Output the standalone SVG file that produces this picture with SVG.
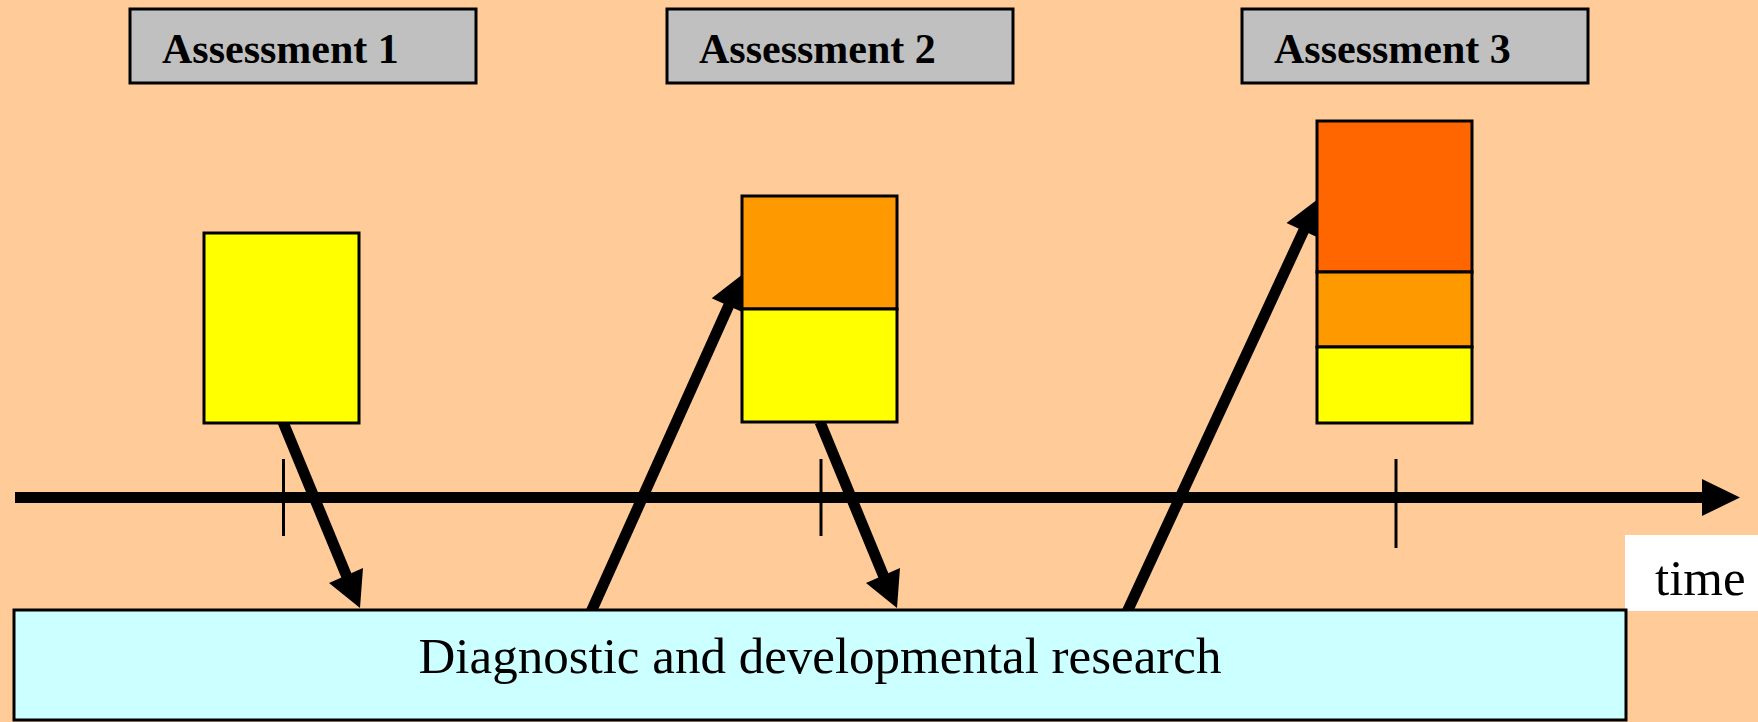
<svg xmlns="http://www.w3.org/2000/svg" width="1758" height="722" viewBox="0 0 1758 722">
<style>
.box{stroke:#000;stroke-width:3}
.hdr{fill:#C0C0C0}
.yel{fill:#FFFF00}
.org{fill:#FF9900}
.red{fill:#FF6600}
.lbl{font-family:"Liberation Serif","Times New Roman",serif;font-weight:bold;font-size:42px;fill:#000}
.txt{font-family:"Liberation Serif","Times New Roman",serif;font-size:51px;fill:#000}
.arr{stroke:#000;stroke-width:11;fill:none}
.tick{stroke:#000;stroke-width:3}
</style>
<rect x="0" y="0" width="1758" height="722" fill="#FFCC99"/>
<g id="connectors">
<line class="arr" x1="15" y1="497.5" x2="1704" y2="497.5"/>
<polygon points="1702,479 1740,497.5 1702,516" fill="#000"/>
<line class="tick" x1="283.5" y1="459" x2="283.5" y2="536"/>
<line class="tick" x1="821" y1="459" x2="821" y2="536"/>
<line class="tick" x1="1396" y1="459" x2="1396" y2="548"/>
<line class="arr" x1="283" y1="422" x2="347" y2="577"/>
<polygon points="360,608 329,583 363,568" fill="#000"/>
<line class="arr" x1="820" y1="422" x2="884" y2="577"/>
<polygon points="897,608 866,583 900,568" fill="#000"/>
<line class="arr" x1="591" y1="612" x2="729" y2="305"/>
<polygon points="743,274 711.7,298.3 745.5,313.5" fill="#000"/>
<line class="arr" x1="1127" y1="612" x2="1304" y2="230"/>
<polygon points="1318,199 1286.5,223 1320.1,238.6" fill="#000"/>
</g>
<g id="assessment1">
<rect class="box hdr" x="130" y="9" width="346" height="74"/>
<text class="lbl" x="162" y="63">Assessment 1</text>
</g>
<g id="assessment2">
<rect class="box hdr" x="667" y="9" width="346" height="74"/>
<text class="lbl" x="699" y="63">Assessment 2</text>
</g>
<g id="assessment3">
<rect class="box hdr" x="1242" y="9" width="346" height="74"/>
<text class="lbl" x="1274" y="63">Assessment 3</text>
</g>
<g id="stack1">
<rect class="box yel" x="204" y="233" width="155" height="190"/>
</g>
<g id="stack2">
<rect class="box org" x="742" y="196" width="155" height="113"/>
<rect class="box yel" x="742" y="309" width="155" height="113"/>
</g>
<g id="stack3">
<rect class="box red" x="1317" y="121" width="155" height="151"/>
<rect class="box org" x="1317" y="272" width="155" height="75"/>
<rect class="box yel" x="1317" y="347" width="155" height="76"/>
</g>
<g id="time">
<rect x="1625" y="535" width="133" height="76" fill="#FFFFFF"/>
<text class="txt" x="1655" y="595">time</text>
</g>
<g id="research">
<rect class="box" x="14" y="610" width="1612" height="110" fill="#CCFFFF"/>
<text class="txt" x="820" y="673" text-anchor="middle">Diagnostic and developmental research</text>
</g>
</svg>
